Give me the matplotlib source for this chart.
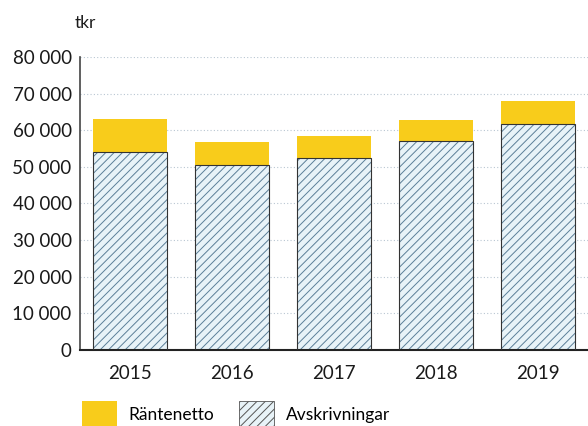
import matplotlib.pyplot as plt
from matplotlib.patches import Patch
from matplotlib.ticker import FuncFormatter

plt.rcParams['font.family'] = ['Lato', 'DejaVu Sans']
plt.rcParams['hatch.linewidth'] = 0.7

years = ['2015', '2016', '2017', '2018', '2019']
avskrivningar = [54100, 50500, 52400, 57100, 61800]
rantenetto = [9000, 6300, 6100, 5700, 6300]

yellow = '#f8cc1b'
hatch_face = '#e8f3f8'
hatch_col = '#5b7f98'

fig = plt.figure(figsize=(5.88, 4.26), dpi=100)
ax = fig.add_axes([80 / 588, 1 - 350 / 426, 1 - 80 / 588, 293 / 426])

x = range(len(years))
# hatched part, then a dark outline on top
ax.bar(x, avskrivningar, width=0.73, color=hatch_face, edgecolor=hatch_col,
       hatch='////', linewidth=0, zorder=2)
ax.bar(x, avskrivningar, width=0.73, fill=False, edgecolor='#333333',
       linewidth=0.8, zorder=3)
ax.bar(x, rantenetto, width=0.73, bottom=avskrivningar, color=yellow,
       linewidth=0, zorder=2)

ax.set_xlim(-0.49, 4.49)
ax.set_ylim(0, 80000)
ax.set_yticks(range(0, 80001, 10000))
ax.yaxis.set_major_formatter(FuncFormatter(lambda v, p: f'{int(v):,}'.replace(',', ' ')))
ax.set_xticks(list(x))
ax.set_xticklabels(years)
ax.tick_params(axis='both', length=0, labelsize=13.5, colors='#1a1a1a')
ax.tick_params(axis='x', pad=11)
ax.tick_params(axis='y', pad=6)

ax.grid(axis='y', linestyle=(0, (1, 2)), color='#b9c6d2', linewidth=0.8, zorder=0)
for s in ['top', 'right']:
    ax.spines[s].set_visible(False)
ax.spines['left'].set_color('#444444')
ax.spines['left'].set_linewidth(1.2)
ax.spines['bottom'].set_color('#222222')
ax.spines['bottom'].set_linewidth(1.5)

fig.text(75 / 588, 1 - 23 / 426, 'tkr', fontsize=12.5, va='center', ha='left', color='#1a1a1a')

handles = [Patch(facecolor=yellow, edgecolor='none', label='Räntenetto'),
           Patch(facecolor=hatch_face, edgecolor='#555555', hatch='////',
                 linewidth=0.6, label='Avskrivningar')]
fig.legend(handles=handles, loc='lower left', bbox_to_anchor=(82 / 588, -0.004),
           ncol=2, frameon=False, fontsize=12.5, handlelength=2.0, handleheight=2.0,
           handletextpad=0.7, columnspacing=1.4, borderpad=0, borderaxespad=0)

plt.savefig('out.png', dpi=100)
